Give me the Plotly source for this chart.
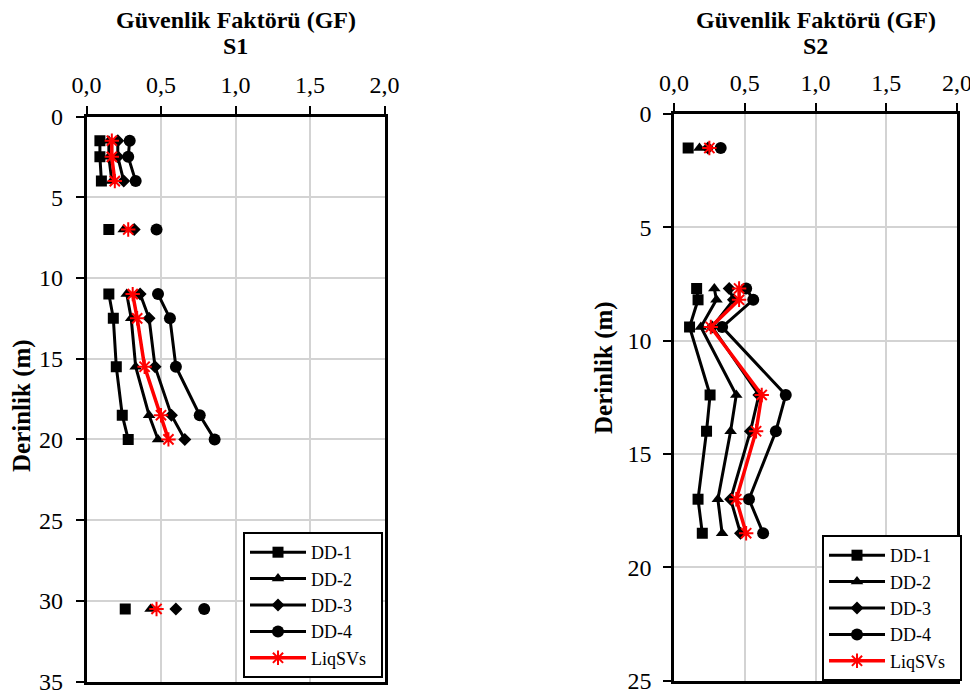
import plotly.graph_objects as go

# ---------------- data ----------------
series_names = ["DD-1", "DD-2", "DD-3", "DD-4", "LiqSVs"]

# S1 (None = gap in the line)
s1_depth = [1.5, 2.5, 4.0, None, 7.0, None, 11.0, 12.5, 15.5, 18.5, 20.0, None, 30.5]
s1_dd1 = [0.09, 0.09, 0.10, None, 0.15, None, 0.15, 0.18, 0.20, 0.24, 0.28, None, 0.26]
s1_dd2 = [0.15, 0.15, 0.17, None, 0.25, None, 0.27, 0.30, 0.33, 0.42, 0.48, None, 0.43]
s1_dd3 = [0.21, 0.21, 0.25, None, 0.32, None, 0.36, 0.42, 0.46, 0.57, 0.66, None, 0.60]
s1_dd4 = [0.29, 0.28, 0.33, None, 0.47, None, 0.48, 0.56, 0.60, 0.76, 0.86, None, 0.79]
s1_liq = [0.17, 0.17, 0.19, None, 0.28, None, 0.31, 0.34, 0.39, 0.50, 0.55, None, 0.47]

# S2
s2_depth = [1.5, None, 7.7, 8.2, 9.4, 12.4, 14.0, 17.0, 18.5]
s2_dd1 = [0.10, None, 0.16, 0.17, 0.11, 0.255, 0.23, 0.17, 0.20]
s2_dd2 = [0.18, None, 0.285, 0.30, 0.19, 0.44, 0.40, 0.31, 0.34]
s2_dd3 = [0.24, None, 0.39, 0.42, 0.27, 0.60, 0.54, 0.40, 0.47]
s2_dd4 = [0.33, None, 0.51, 0.56, 0.34, 0.79, 0.72, 0.53, 0.63]
s2_liq = [0.25, None, 0.46, 0.46, 0.26, 0.62, 0.58, 0.44, 0.51]

x_ticks = [0.0, 0.5, 1.0, 1.5, 2.0]
s1_y_ticks = [0, 5, 10, 15, 20, 25, 30, 35]
s2_y_ticks = [0, 5, 10, 15, 20, 25]

title_main = "Güvenlik Faktörü (GF)"
y_title = "Derinlik (m)"

# ---------------- styles ----------------
FONT = "Liberation Serif"
styles = {
    "DD-1": dict(symbol="square", size=11, color="black", lw=3),
    "DD-2": dict(symbol="triangle-up", size=11, color="black", lw=3),
    "DD-3": dict(symbol="diamond", size=10, color="black", lw=3),
    "DD-4": dict(symbol="circle", size=12, color="black", lw=3),
    "LiqSVs": dict(symbol="asterisk-open", size=12, color="red", lw=3.5),
}
LEGEND_PAD = "\u00a0\u00a0"

fig = go.Figure()

def add_set(xs_list, depth, xa, ya, legend):
    for name, xs in zip(series_names, xs_list):
        st = styles[name]
        marker = dict(symbol=st["symbol"], size=st["size"], color=st["color"])
        if name == "LiqSVs":
            marker["line"] = dict(color="red", width=2)
        fig.add_trace(go.Scatter(
            x=xs, y=depth, mode="lines+markers", name=name + LEGEND_PAD,
            line=dict(color=st["color"], width=st["lw"]),
            marker=marker, connectgaps=False,
            xaxis=xa, yaxis=ya, legend=legend,
        ))

add_set([s1_dd1, s1_dd2, s1_dd3, s1_dd4, s1_liq], s1_depth, "x", "y", "legend")
add_set([s2_dd1, s2_dd2, s2_dd3, s2_dd4, s2_liq], s2_depth, "x2", "y2", "legend2")

# page has an 8px body margin; figure sized so it ends at the window edge
OFF = 8
W, H = 978 - OFF, 700 - OFF
L1 = (86.5, 384.5, 116.5, 681.6)
L2 = (674, 957, 114, 680.5)

def px(x):
    return (x - OFF) / W

def py(y):
    return 1 - (y - OFF) / H

def dom_x(b):
    return [px(b[0]), px(b[1])]

def dom_y(b):
    return [py(b[3]), py(b[2])]

axis_common = dict(
    showline=True, linecolor="black", linewidth=2.5, mirror=True,
    ticks="outside", ticklen=8, tickwidth=2, tickcolor="black",
    showgrid=True, gridcolor="#d3d3d3", gridwidth=1.5, zeroline=False,
    tickfont=dict(family=FONT, size=24, color="black"),
    automargin=False,
)

legend_common = dict(
    font=dict(family=FONT, size=18, color="black"),
    bordercolor="black", borderwidth=2, bgcolor="white",
    xanchor="left", yanchor="top", tracegroupgap=0, itemwidth=56,
)

fig.update_layout(
    template="none",
    width=W, height=H,
    margin=dict(l=0, r=0, t=0, b=0),
    paper_bgcolor="white", plot_bgcolor="white",
    separators=",.",
    font=dict(family=FONT, color="black"),
    xaxis=dict(domain=dom_x(L1), range=[0, 2], side="top", tickvals=x_ticks,
               tickformat=".1f", anchor="y", ticklabelstandoff=3, **axis_common),
    yaxis=dict(domain=dom_y(L1), range=[35, 0], tickvals=s1_y_ticks, anchor="x",
               ticklabelstandoff=8, **axis_common),
    xaxis2=dict(domain=dom_x(L2), range=[0, 2], side="top", tickvals=x_ticks,
                tickformat=".1f", anchor="y2", ticklabelstandoff=3, **axis_common),
    yaxis2=dict(domain=dom_y(L2), range=[25, 0], tickvals=s2_y_ticks, anchor="x2",
                ticklabelstandoff=7, **axis_common),
    legend=dict(x=px(243), y=py(532), **legend_common),
    legend2=dict(x=px(822), y=py(535), **legend_common),
    showlegend=True,
)

for cx, lab in [((L1[0] + L1[1]) / 2, "S1"), ((L2[0] + L2[1]) / 2, "S2")]:
    for ty, txt in [(20, title_main), (46, lab)]:
        fig.add_annotation(x=px(cx), y=py(ty), xref="paper", yref="paper",
                           text=f"<b>{txt}</b>", showarrow=False,
                           font=dict(family=FONT, size=24, color="black"),
                           xanchor="center", yanchor="middle")

for cx, cy in [(22, 406), (604, 368)]:
    fig.add_annotation(x=px(cx), y=py(cy), xref="paper", yref="paper",
                       text=f"<b>{y_title}</b>", showarrow=False, textangle=-90,
                       font=dict(family=FONT, size=25, color="black"),
                       xanchor="center", yanchor="middle")

fig.write_html("out.html")
